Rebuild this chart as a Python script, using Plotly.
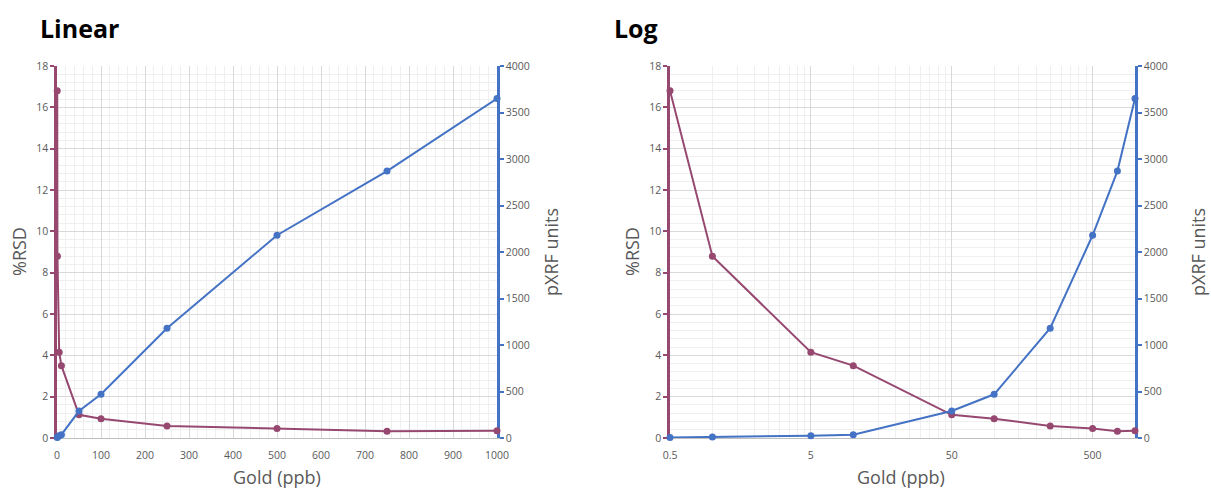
import plotly.graph_objects as go
import numpy as np

# ---- data ----
gold_ppb = [0.5, 1, 5, 10, 50, 100, 250, 500, 750, 1000]
rsd_pct = [16.8, 8.8, 4.15, 3.5, 1.12, 0.93, 0.58, 0.46, 0.33, 0.35]
pxrf_units = [5, 10, 25, 36, 290, 470, 1180, 2180, 2870, 3650]

log_tickvals = [0.5, 5, 50, 500]
log_ticktext = ["0.5", "5", "50", "500"]

MAROON = "#964870"
BLUE = "#4472C4"
GRAY = "#595959"
GRID = "#D9D9D9"
MINOR = "#EFEFEF"
FONT = "Open Sans"

fig = go.Figure()

marker_r = dict(color=MAROON, size=7)
marker_b = dict(color=BLUE, size=7)

# Linear panel
fig.add_trace(go.Scatter(x=gold_ppb, y=rsd_pct, mode="lines+markers", line=dict(color=MAROON, width=2),
                         marker=marker_r, xaxis="x", yaxis="y", cliponaxis=False, showlegend=False))
fig.add_trace(go.Scatter(x=gold_ppb, y=pxrf_units, mode="lines+markers", line=dict(color=BLUE, width=2),
                         marker=marker_b, xaxis="x", yaxis="y2", cliponaxis=False, showlegend=False))
# Log panel
fig.add_trace(go.Scatter(x=gold_ppb, y=rsd_pct, mode="lines+markers", line=dict(color=MAROON, width=2),
                         marker=marker_r, xaxis="x2", yaxis="y3", cliponaxis=False, showlegend=False))
fig.add_trace(go.Scatter(x=gold_ppb, y=pxrf_units, mode="lines+markers", line=dict(color=BLUE, width=2),
                         marker=marker_b, xaxis="x2", yaxis="y4", cliponaxis=False, showlegend=False))

W, H = 1211, 488
def px(x):
    return x / W
def py(y):
    return (H - y) / H

tickfont = dict(family=FONT, size=10.5, color=GRAY)

log_minor = []
for d in log_tickvals:
    for k in range(2, 10):
        v = d * k
        if v <= 1000:
            log_minor.append(v)

ydom = [py(438), py(66)]

left_y = dict(range=[0, 18], dtick=2, tick0=0, showgrid=True, gridcolor=GRID, gridwidth=1,
              minor=dict(dtick=0.4, showgrid=True, gridcolor=MINOR, gridwidth=1),
              showline=True, linecolor=MAROON, linewidth=2.5, ticks="outside", ticklen=4,
              tickcolor=MAROON, tickwidth=2, tickfont=tickfont, zeroline=False,
              layer="below traces", automargin=False)
right_y = dict(range=[0, 4000], dtick=500, tick0=0, showgrid=False, side="right",
               showline=True, linecolor=BLUE, linewidth=2.5, ticks="outside", ticklen=4,
               tickcolor=BLUE, tickwidth=2, tickfont=tickfont, zeroline=False,
               layer="below traces", automargin=False)

fig.update_layout(
    width=W, height=H,
    margin=dict(l=0, r=0, t=0, b=0, pad=0, autoexpand=False),
    paper_bgcolor="white", plot_bgcolor="white",
    font=dict(family=FONT, color=GRAY),
    xaxis=dict(domain=[px(57), px(497)], range=[0, 1000], dtick=100, tick0=0,
               showgrid=True, gridcolor=GRID,
               minor=dict(dtick=20, showgrid=True, gridcolor=MINOR),
               showline=True, linecolor="#BFBFBF", linewidth=1, ticks="", zeroline=False,
               tickfont=tickfont, ticklabelstandoff=7, anchor="y", layer="below traces",
               automargin=False),
    yaxis=dict(domain=ydom, anchor="x", **left_y),
    yaxis2=dict(overlaying="y", anchor="x", **right_y),
    xaxis2=dict(domain=[px(670), px(1135)], type="log", range=[np.log10(0.5), 3],
                tickmode="array", tickvals=log_tickvals, ticktext=log_ticktext,
                showgrid=True, gridcolor=GRID,
                minor=dict(tickvals=log_minor, showgrid=True, gridcolor=MINOR),
                showline=True, linecolor="#BFBFBF", linewidth=1, ticks="", zeroline=False,
                tickfont=tickfont, ticklabelstandoff=7, anchor="y3", layer="below traces",
                automargin=False),
    yaxis3=dict(domain=ydom, anchor="x2", **left_y),
    yaxis4=dict(overlaying="y3", anchor="x2", **right_y),
)

ann = []
ann.append(dict(text="<b>Linear</b>", x=px(38), y=py(28), xanchor="left", yanchor="middle",
                font=dict(family=FONT, size=25, color="black")))
ann.append(dict(text="<b>Log</b>", x=px(612), y=py(28), xanchor="left", yanchor="middle",
                font=dict(family=FONT, size=25, color="black")))
for cx in (19, 632):
    ann.append(dict(text="%RSD", x=px(cx), y=py(252), textangle=-90, xanchor="center", yanchor="middle",
                    font=dict(family=FONT, size=18, color=GRAY)))
for cx in (551, 1198):
    ann.append(dict(text="pXRF units", x=px(cx), y=py(252), textangle=-90, xanchor="center", yanchor="middle",
                    font=dict(family=FONT, size=18, color=GRAY)))
for cx in (277, 901):
    ann.append(dict(text="Gold (ppb)", x=px(cx), y=py(477), xanchor="center", yanchor="middle",
                    font=dict(family=FONT, size=18, color=GRAY)))
for a in ann:
    a.update(xref="paper", yref="paper", showarrow=False)
fig.update_layout(annotations=ann)

fig.write_html("out.html", config={"displayModeBar": False},
               post_script="document.body.style.margin='0';document.body.style.overflow='hidden';")
